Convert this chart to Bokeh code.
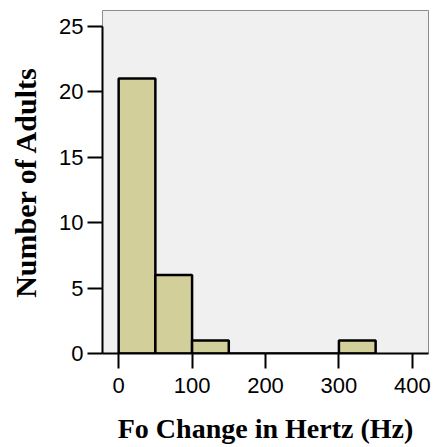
from bokeh.plotting import figure
from bokeh.models import Range1d, FixedTicker, ColumnDataSource
from bokeh.embed import file_html
from bokeh.resources import INLINE

# Data: histogram of Fo change (Hz), bin width 50
bin_left = [0, 50, 100, 150, 200, 250, 300]
bin_right = [50, 100, 150, 200, 250, 300, 350]
counts = [21, 6, 1, 0, 0, 0, 1]
x_ticks = [0, 100, 200, 300, 400]
y_ticks = [0, 5, 10, 15, 20, 25]

src = ColumnDataSource(dict(left=bin_left, right=bin_right, top=counts,
                            bottom=[0] * len(counts)))

p = figure(width=434, height=447, output_backend="svg", toolbar_location=None,
           x_range=Range1d(-22, 422), y_range=Range1d(0, 26.2),
           min_border_left=102, min_border_right=6, min_border_top=10,
           min_border_bottom=94)

p.border_fill_color = "white"
p.background_fill_color = "#F0F0F0"
p.outline_line_color = "#8C8C8C"
p.outline_line_width = 1
p.grid.visible = False

p.quad(left="left", right="right", top="top", bottom="bottom", source=src,
       fill_color="#D3CF9B", line_color="black", line_width=2.5)

for ax in (p.xaxis[0], p.yaxis[0]):
    ax.axis_line_width = 2
    ax.axis_line_color = "black"
    ax.major_tick_line_width = 2
    ax.major_tick_line_color = "black"
    ax.major_tick_out = 15
    ax.major_tick_in = 0
    ax.minor_tick_line_color = None
    ax.major_label_text_font = "Liberation Sans"
    ax.major_label_text_font_size = "22px"
    ax.major_label_text_color = "black"
    ax.axis_label_text_font = "Liberation Serif"
    ax.axis_label_text_font_style = "bold"
    ax.axis_label_text_color = "black"

p.xaxis.ticker = FixedTicker(ticks=x_ticks)
p.yaxis.ticker = FixedTicker(ticks=y_ticks)
p.yaxis.bounds = (0, 25)
p.xaxis.major_label_standoff = 9
p.yaxis.major_label_standoff = 4
p.xaxis.axis_label = "Fo Change in Hertz (Hz)"
p.yaxis.axis_label = "Number of Adults"
p.xaxis.axis_label_text_font_size = "28px"
p.yaxis.axis_label_text_font_size = "30px"
p.xaxis.axis_label_standoff = 17
p.yaxis.axis_label_standoff = 14

open("out.html", "w").write(file_html(p, INLINE))
